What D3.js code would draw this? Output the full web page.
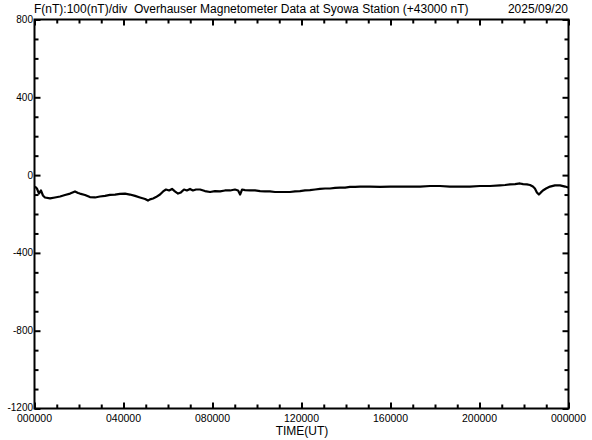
<!DOCTYPE html>
<html><head><meta charset="utf-8">
<script src="https://cdn.jsdelivr.net/npm/d3@7/dist/d3.min.js"></script>
<style>body{margin:0;background:#fff}svg{display:block}text{font-family:"Liberation Sans",Arial,sans-serif;fill:#000;white-space:pre}</style>
</head><body><svg id="c" width="592" height="440"></svg>
<script>
const title = "F(nT):100(nT)/div  Overhauser Magnetometer Data at Syowa Station (+43000 nT)";
const dateLabel = "2025/09/20";
const xLabel = "TIME(UT)";
const yTicks = [800, 400, 0, -400, -800, -1200];
const xTickHours = [0, 4, 8, 12, 16, 20, 24];
const xTickLabels = ["000000","040000","080000","120000","160000","200000","000000"];
const hours = [0.02,0.11,0.2,0.29,0.38,0.47,0.7,0.92,1.15,1.37,1.6,1.82,1.96,2.04,2.27,2.49,2.72,2.94,3.17,3.39,3.62,3.84,4.07,4.29,4.52,4.74,4.97,5.1,5.19,5.33,5.46,5.64,5.78,5.91,6.05,6.18,6.31,6.45,6.58,6.72,6.85,6.99,7.12,7.26,7.44,7.66,7.89,8.11,8.34,8.56,8.79,9.01,9.15,9.24,9.33,9.46,9.69,9.91,10.14,10.36,10.58,10.81,11.03,11.26,11.48,11.71,11.93,12.16,12.38,12.61,12.83,13.06,13.28,13.51,13.73,13.96,14.18,14.41,14.63,15.08,15.53,15.98,16.43,16.88,17.33,17.78,18.22,18.67,19.12,19.57,20.02,20.47,20.92,21.15,21.37,21.6,21.82,21.96,22.13,22.27,22.4,22.49,22.58,22.67,22.76,22.85,22.99,23.17,23.39,23.62,23.85,23.98];
const values = [-59,-69,-95,-79,-105,-115,-120,-115,-110,-102,-95,-84,-92,-95,-102,-113,-115,-110,-107,-102,-100,-97,-95,-100,-107,-115,-123,-131,-125,-120,-113,-100,-84,-74,-79,-71,-84,-95,-89,-74,-79,-71,-79,-74,-74,-82,-87,-82,-84,-79,-79,-74,-79,-100,-74,-77,-79,-79,-82,-84,-84,-87,-87,-87,-87,-84,-82,-79,-77,-74,-71,-69,-69,-66,-64,-64,-61,-61,-59,-59,-61,-59,-59,-59,-59,-56,-56,-59,-59,-59,-56,-56,-53,-51,-48,-46,-43,-46,-48,-51,-59,-69,-89,-100,-89,-79,-69,-59,-53,-53,-59,-64];

const svg = d3.select("#c");
const L = 34.5, R = 568.5, T = 19.5, B = 408.5;
const x = d3.scaleLinear().domain([0, 24]).range([L, R]);
const y = d3.scaleLinear().domain([-1200, 800]).range([B, T]);

const minorX = d3.range(0, 25, 1);
const minorY = d3.range(-1200, 801, 100);

svg.append("g").attr("transform", `translate(0,${B})`)
  .call(d3.axisTop(x).tickValues(minorX).tickSize(0).tickFormat(""))
  .call(g => g.select(".domain").remove())
  .selectAll(".tick line").attr("y2", d => d % 4 === 0 ? -6 : -4).attr("stroke", "#000").attr("stroke-width", 2);
svg.append("g").attr("transform", `translate(0,${T})`)
  .call(d3.axisBottom(x).tickValues(minorX).tickSize(0).tickFormat(""))
  .call(g => g.select(".domain").remove())
  .selectAll(".tick line").attr("y2", d => d % 4 === 0 ? 6 : 4).attr("stroke", "#000").attr("stroke-width", 2);
svg.append("g").attr("transform", `translate(${L},0)`)
  .call(d3.axisRight(y).tickValues(minorY).tickSize(0).tickFormat(""))
  .call(g => g.select(".domain").remove())
  .selectAll(".tick line").attr("x2", d => d % 400 === 0 ? 6 : 4).attr("stroke", "#000").attr("stroke-width", 2);
svg.append("g").attr("transform", `translate(${R},0)`)
  .call(d3.axisLeft(y).tickValues(minorY).tickSize(0).tickFormat(""))
  .call(g => g.select(".domain").remove())
  .selectAll(".tick line").attr("x2", d => d % 400 === 0 ? -6 : -4).attr("stroke", "#000").attr("stroke-width", 2);

svg.append("rect").attr("x", L).attr("y", T).attr("width", R - L).attr("height", B - T)
  .attr("fill", "none").attr("stroke", "#000").attr("stroke-width", 2);

svg.append("g").selectAll("text").data(yTicks).join("text")
  .attr("x", L - 1.5).attr("y", d => y(d) + (d === -1200 ? -1.5 : 0)).attr("dy", "0.35em")
  .attr("text-anchor", "end").attr("font-size", 10).text(d => d);

svg.append("g").selectAll("text").data(xTickHours).join("text")
  .attr("x", d => x(d)).attr("y", 422).attr("text-anchor", "middle")
  .attr("font-size", 10.5).text((d, i) => xTickLabels[i]);

svg.append("text").attr("x", 302).attr("y", 435).attr("text-anchor", "middle").attr("font-size", 12).text(xLabel);
svg.append("text").attr("x", 34).attr("y", 13).attr("font-size", 12).text(title);
svg.append("text").attr("x", 568).attr("y", 13).attr("text-anchor", "end").attr("font-size", 12).text(dateLabel);

const pts = hours.map((h, i) => [h, values[i]]);
svg.append("path").datum(pts)
  .attr("fill", "none").attr("stroke", "#000").attr("stroke-width", 2.2).attr("stroke-linejoin", "round")
  .attr("d", d3.line().x(d => x(d[0])).y(d => y(d[1])));
</script></body></html>
